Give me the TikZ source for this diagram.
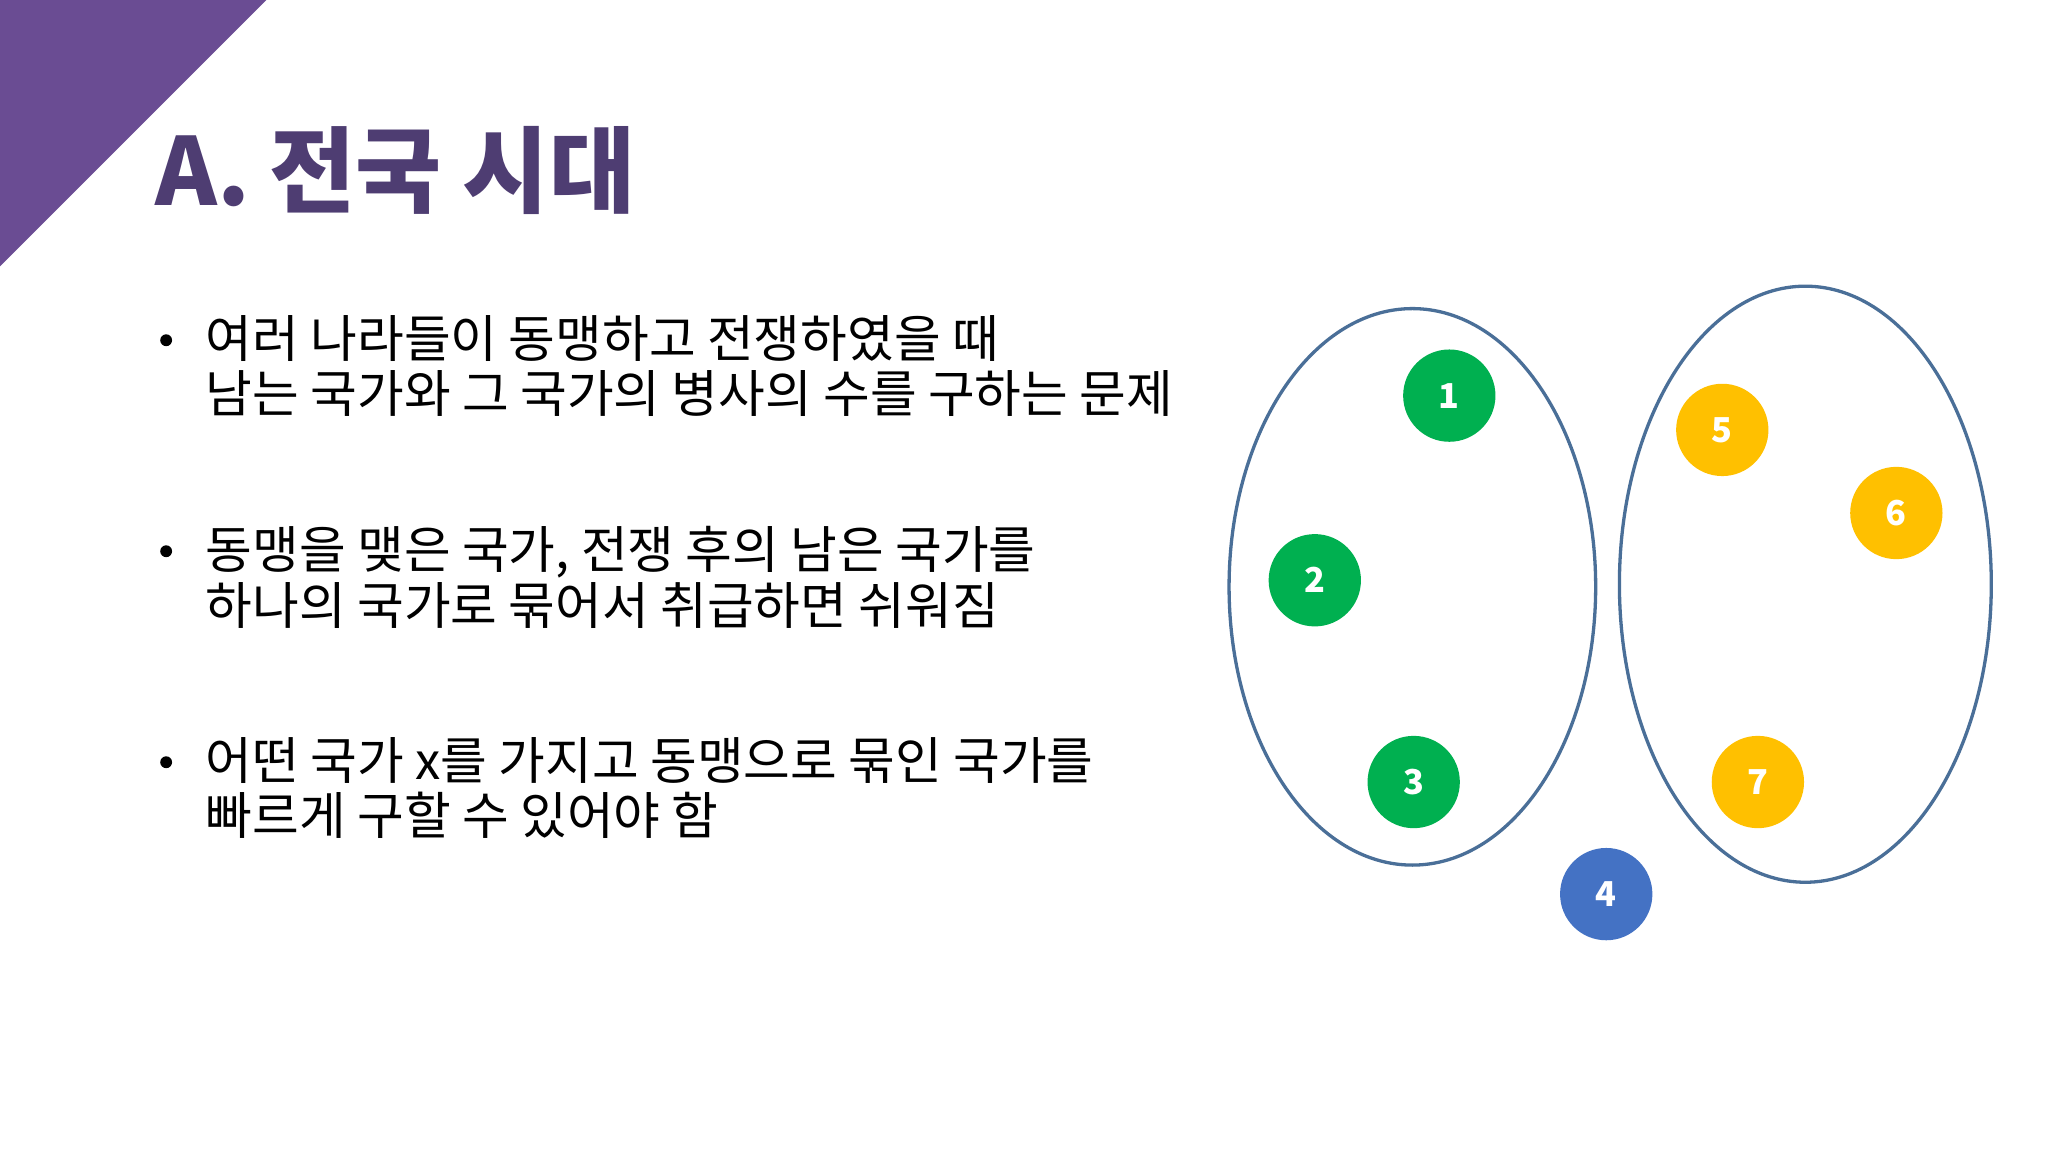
\documentclass[tikz,border=0pt]{standalone}
\usepackage{fontspec}
\setmainfont{Noto Sans CJK KR}
\newfontfamily\krbold{Noto Sans CJK KR Bold}
\definecolor{purp}{HTML}{6A4C93}
\definecolor{titlec}{HTML}{4E3D72}
\definecolor{ell}{HTML}{4A6F98}
\definecolor{grn}{HTML}{00B050}
\definecolor{blu}{HTML}{4472C4}
\definecolor{yel}{HTML}{FFC000}
\tikzset{
  dot/.style={circle,minimum size=70pt,inner sep=0pt,text=white,font=\fontsize{26}{28}\selectfont\bfseries},
  grp/.style={draw=ell,line width=2.5pt},
  bul/.style={anchor=north west,align=left,font=\fontsize{38.5}{42}\selectfont,inner sep=0pt}
}
\begin{document}
\begin{tikzpicture}[x=1pt,y=-1pt]
\useasboundingbox (0,0) rectangle (1553,873.6);
\fill[white] (0,0) rectangle (1553,873.6);
\fill[purp] (0,0) -- (202,0) -- (0,202) -- cycle;
\node[anchor=base west,inner sep=0pt,text=titlec,font=\fontsize{71}{74}\selectfont\bfseries] (title) at (118,156) {A.\kern-2pt{} 전국 시대};
\node[bul] (b1) at (156,239) {여러 나라들이 동맹하고 전쟁하였을 때\\남는 국가와 그 국가의 병사의 수를 구하는 문제};
\node[bul] (b2) at (156,399) {동맹을 맺은 국가, 전쟁 후의 남은 국가를\\하나의 국가로 묶어서 취급하면 쉬워짐};
\node[bul] (b3) at (156,559) {어떤 국가 x를 가지고 동맹으로 묶인 국가를\\빠르게 구할 수 있어야 함};
\foreach \y/\n in {258/d1,418/d2,578/d3} \fill (126,\y) circle (4.5pt);
\draw[grp] (1071,445) ellipse [x radius=139, y radius=211];
\draw[grp] (1369,443) ellipse [x radius=141, y radius=226];
\node[dot,fill=grn] (n1) at (1099,300) {1};
\node[dot,fill=grn] (n2) at (997,440) {2};
\node[dot,fill=grn] (n3) at (1072,593) {3};
\node[dot,fill=blu] (n4) at (1218,678) {4};
\node[dot,fill=yel] (n5) at (1306,326) {5};
\node[dot,fill=yel] (n6) at (1438,389) {6};
\node[dot,fill=yel] (n7) at (1333,593) {7};
\end{tikzpicture}
\end{document}
